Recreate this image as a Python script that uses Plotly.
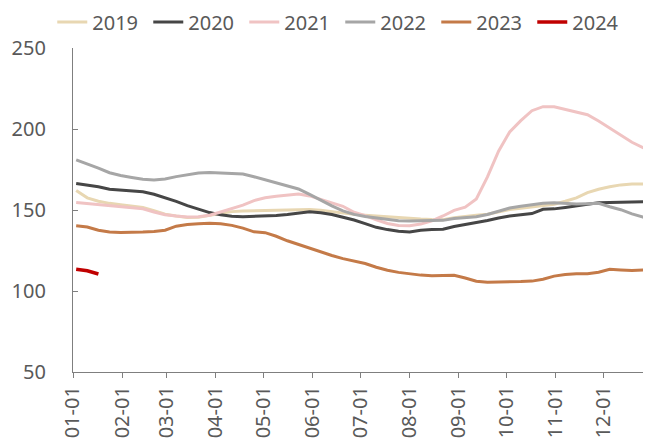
import plotly.graph_objects as go
import datetime as dt

# weekly grid (nominal year 2001), first point Jan 3
week_dates = [(dt.date(2001, 1, 3) + dt.timedelta(days=7 * k)).isoformat() for k in range(53)]

years = ["2019", "2020", "2021", "2022", "2023", "2024"]
colors = ["#E8D7B2", "#464646", "#F0C3C3", "#A6A6A6", "#C47A48", "#C00000"]

v2019 = [162, 157.5, 155.4, 154.1, 153.3, 152.5, 151.5, 149.5, 147.4, 146.3, 145.4, 145.5, 146.8, 148.1,
         149, 149.4, 149.6, 149.7, 149.9, 150.1, 150.3, 150.3, 149.9, 149, 147.9, 147.3, 146.7, 146.2,
         145.6, 145.1, 144.6, 144.4, 144.1, 144, 145.2, 146.2, 146.8, 147.4, 148.8, 150.3, 151.1, 152,
         152.7, 153.6, 155.4, 157.5, 160.7, 162.8, 164.4, 165.5, 166, 166, None]
v2020 = [166.3, 165.5, 164.4, 162.8, 162.4, 162.1, 161.3, 159.7, 157.6, 155.3, 152.7, 150.5, 148.4, 147,
         146.2, 145.9, 146, 146.3, 146.6, 147.2, 148.2, 148.9, 148.3, 147.2, 145.5, 143.8, 141.6, 139.3,
         137.9, 136.9, 136.4, 137.5, 137.9, 138.1, 139.8, 141, 142.2, 143.5, 145.1, 146.3, 147, 147.8,
         150.4, 150.7, 151.6, 152.8, 153.6, 154.4, 154.7, 154.9, 155, 155.1, None]
v2021 = [154.7, 154.1, 153.4, 152.5, 151.9, 151.4, 150.8, 148.8, 147.1, 146.3, 145.7, 145.8, 146.8, 148.8,
         151, 153, 155.8, 157.6, 158.5, 159.2, 159.8, 158.7, 156.5, 154.3, 152.3, 148.6, 146.5, 143.9,
         141.7, 140.5, 140.3, 141.3, 143.3, 146.3, 149.8, 151.7, 156.8, 170.4, 186.3, 198.2, 205.2, 211.3,
         213.8, 213.7, 212.2, 210.7, 208.8, 204.9, 200.7, 196, 191.8, 188.5, 184.8]
v2022 = [181, 178.5, 175.8, 173, 171.3, 170.1, 169, 168.5, 169.1, 170.6, 171.9, 172.8, 173.1, 172.9,
         172.6, 172.2, 170.5, 168.6, 167, 165.2, 163, 159.6, 156, 152.5, 149.5, 147.3, 146, 145,
         144, 143.4, 143.2, 143.2, 143.2, 143.6, 144.8, 145.5, 145.9, 147.2, 149.3, 151.2, 152.3, 153.4,
         154.2, 154.4, 154, 153.7, 153.9, 154.1, 152, 150.2, 147.6, 145.6, 141.5]
v2023 = [140.3, 139.5, 137.5, 136.4, 136.1, 136.1, 136.4, 136.8, 137.5, 140, 141, 141.5, 141.8, 141.5,
         140.5, 138.8, 136.5, 136, 133.8, 131, 128.7, 126.3, 124, 121.9, 120, 118.5, 117, 114.7,
         112.8, 111.5, 110.5, 109.8, 109.4, 109.5, 109.7, 108, 106, 105.4, 105.4, 105.5, 105.8, 106.1,
         107.3, 109.2, 110.2, 110.7, 110.7, 111.6, 113.4, 113, 112.6, 113, 113]
v2024 = [113.4, 112.5, 110.5]

series = [v2019, v2020, v2021, v2022, v2023, v2024]

fig = go.Figure()
for name, col, vals in zip(years, colors, series):
    fig.add_trace(go.Scatter(
        x=week_dates[:len(vals)], y=vals, name=name, mode="lines",
        line=dict(color=col, width=3.5 if name == "2024" else 3),
        connectgaps=False,
    ))

font = dict(family="Noto Sans, Open Sans, sans-serif", size=20, color="#595959")

fig.update_layout(
    width=651, height=441,
    margin=dict(l=65, r=8, t=40, b=77, autoexpand=False),
    paper_bgcolor="white", plot_bgcolor="white",
    font=font,
    showlegend=True,
    legend=dict(
        orientation="h", xref="container", yref="container",
        x=0.068, y=1 - 14 / 441, xanchor="left", yanchor="middle",
        font=font, bgcolor="rgba(0,0,0,0)", borderwidth=0,
        entrywidth=51, entrywidthmode="pixels", tracegroupgap=0,
    ),
    xaxis=dict(
        type="date", range=["2001-01-01", "2001-12-31"],
        tick0="2001-01-01", dtick="M1", tickformat="%m-%d",
        tickangle=-90, ticks="outside", ticklen=5, tickcolor="#7F7F7F",
        showline=True, linecolor="#7F7F7F", linewidth=1.3,
        showgrid=False, zeroline=False, tickfont=font, automargin=False,
    ),
    yaxis=dict(
        range=[50, 250], dtick=50, ticks="inside", ticklen=5, tickcolor="#7F7F7F",
        showline=True, linecolor="#7F7F7F", linewidth=1.3,
        showgrid=False, zeroline=False, tickfont=font, ticklabelstandoff=22,
        automargin=False,
    ),
)

fig.write_html("out.html")
